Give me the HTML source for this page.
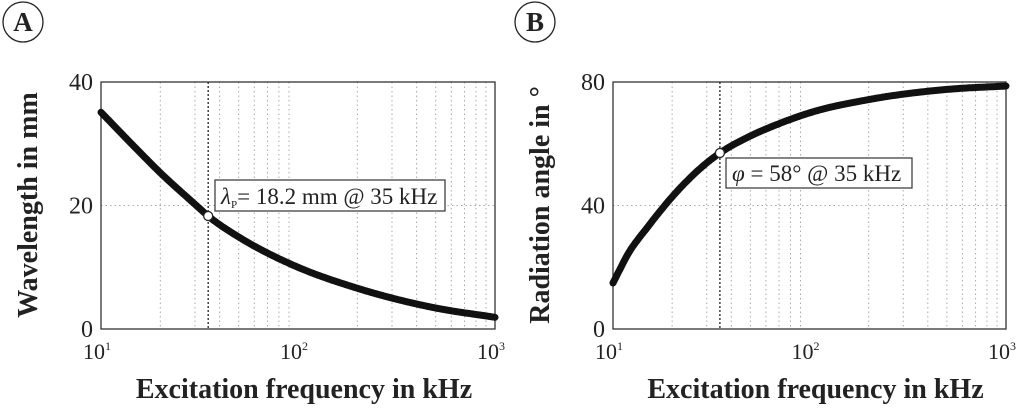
<!DOCTYPE html>
<html><head><meta charset="utf-8"><style>
body{margin:0;background:#fff;width:1024px;height:410px;overflow:hidden}
svg text{font-family:"Liberation Serif","Times New Roman",serif;fill:#222}
</style></head><body>
<svg id="s" width="1024" height="410"></svg>
<script>
const freqA=[10,15,20,30,35,50,70,100,200,500,1000];
const waveA=[35.1,29.3,25.3,20.2,18.3,14.9,12.3,10,6.6,3.4,1.9];
const freqB=[10,12,15,20,30,35,50,70,100,200,500,1000];
const angleB=[14.9,24.6,33,42.8,53.8,57,62.5,66.5,70,74.3,77.6,78.7];
const yTicksA=[0,20,40];
const yTicksB=[0,40,80];
const xTickExp=[1,2,3];
const NS="http://www.w3.org/2000/svg";
const svg=document.getElementById('s');
function el(t,a,p){const e=document.createElementNS(NS,t);for(const k in a)e.setAttribute(k,a[k]);(p||svg).appendChild(e);return e;}
function interp(fs,vs,f){
 const xs=fs.map(v=>Math.log10(v)),n=xs.length,h=[],dl=[];
 for(let i=0;i<n-1;i++){h[i]=xs[i+1]-xs[i];dl[i]=(vs[i+1]-vs[i])/h[i];}
 const m=[dl[0]];for(let i=1;i<n-1;i++)m[i]=dl[i-1]*dl[i]<=0?0:(dl[i-1]*h[i]+dl[i]*h[i-1])/(h[i]+h[i-1]);m[n-1]=dl[n-2];
 const x=Math.log10(f);let i=0;while(i<n-2&&x>xs[i+1])i++;
 const t=(x-xs[i])/h[i],t2=t*t,t3=t2*t;
 return (2*t3-3*t2+1)*vs[i]+(t3-2*t2+t)*h[i]*m[i]+(-2*t3+3*t2)*vs[i+1]+(t3-t2)*h[i]*m[i+1];
}
function panel(cfg){
 const g=el('g',{});
 
 
 const L=cfg.x0,R=cfg.x1,T=82,B=329,ymax=cfg.ymax;
 const X=f=>L+(Math.log10(f)-1)/2*(R-L);
 const Y=v=>B-v/ymax*(B-T);
 for(let d=1;d<=2;d++)for(let m=2;m<=9;m++){const x=X(m*Math.pow(10,d));
  const ln=el('line',{x1:x,x2:x,y1:T,y2:B,stroke:'#aaa','stroke-width':1,'stroke-dasharray':'1.5,3'},g);
  }
 const mid=cfg.yticks[1];
 const hl=el('line',{x1:L,x2:R,y1:Y(mid),y2:Y(mid),stroke:'#aaa','stroke-width':1,'stroke-dasharray':'1.5,3'},g);
 
 const fr=el('rect',{x:L,y:T,width:R-L,height:B-T,fill:'none',stroke:'#333','stroke-width':1.3},g);
 
 const mk=el('line',{x1:X(35),x2:X(35),y1:T,y2:B,stroke:'#222','stroke-width':1.3,'stroke-dasharray':'2,2'},g);
 
 let d='';for(let i=0;i<=300;i++){const f=Math.pow(10,1+2*i/300);d+=(i?'L':'M')+X(f).toFixed(1)+','+Y(interp(cfg.fs,cfg.vs,f)).toFixed(1);}
 const cv=el('path',{d:d,fill:'none',stroke:'#111','stroke-width':7,'stroke-linecap':'round','stroke-linejoin':'round'},g);
 
 const pt=el('circle',{cx:X(35),cy:Y(interp(cfg.fs,cfg.vs,35)),r:4.5,fill:'#fff',stroke:'#222','stroke-width':1.3},g);
 
 cfg.yticks.forEach(v=>{const t=el('text',{x:L-8,y:Y(v)+8,'text-anchor':'end','font-size':24},g);t.textContent=v;
  });
 xTickExp.forEach(e=>{const t=el('text',{x:X(Math.pow(10,e))-4,y:359,'text-anchor':'middle','font-size':22},g);
  t.innerHTML='10<tspan dy="-9" font-size="12">'+e+'</tspan>';
  });
 const xt=el('text',{x:(L+R)/2+6,y:398,'text-anchor':'middle','font-size':28,'font-weight':'bold'},g);
 xt.textContent='Excitation frequency in kHz';
 const yt=el('text',{x:0,y:0,'text-anchor':'middle','font-size':28,'font-weight':'bold',transform:`translate(${L-64},${cfg.ytc}) rotate(-90)`},g);
 yt.textContent=cfg.ytitle;
 const bx=el('rect',{x:cfg.box[0],y:cfg.box[1],width:cfg.box[2],height:cfg.box[3],fill:'#fff',stroke:'#333','stroke-width':1.2},g);
 
 const at=el('text',{x:cfg.box[0]+6,y:cfg.box[1]+cfg.box[3]-7,'font-size':23},g);at.innerHTML=cfg.ann;
 
 const c=el('circle',{cx:cfg.cx,cy:22,r:20,fill:'#fff',stroke:'#222','stroke-width':1.3},g);
 
 const ct=el('text',{x:cfg.cx,y:31,'text-anchor':'middle','font-size':27,'font-weight':'bold'},g);ct.textContent=cfg.letter;
 
}
panel({name:'panel-a-wavelength',x0:101,x1:495,ymax:40,yticks:yTicksA,fs:freqA,vs:waveA,ytitle:'Wavelength in mm',ytc:205,
 box:[215,180,230,31],ann:'<tspan font-style="italic">λ</tspan><tspan font-size="11" dy="4">P</tspan><tspan dy="-4">= 18.2 mm @ 35 kHz</tspan>',cx:23,letter:'A'});
panel({name:'panel-b-radiation-angle',x0:613,x1:1006,ymax:80,yticks:yTicksB,fs:freqB,vs:angleB,ytitle:'Radiation angle in °',ytc:205,
 box:[726,158,186,30],ann:'<tspan font-style="italic">φ</tspan> = 58° @ 35 kHz',cx:535,letter:'B'});
</script>
</body></html>
